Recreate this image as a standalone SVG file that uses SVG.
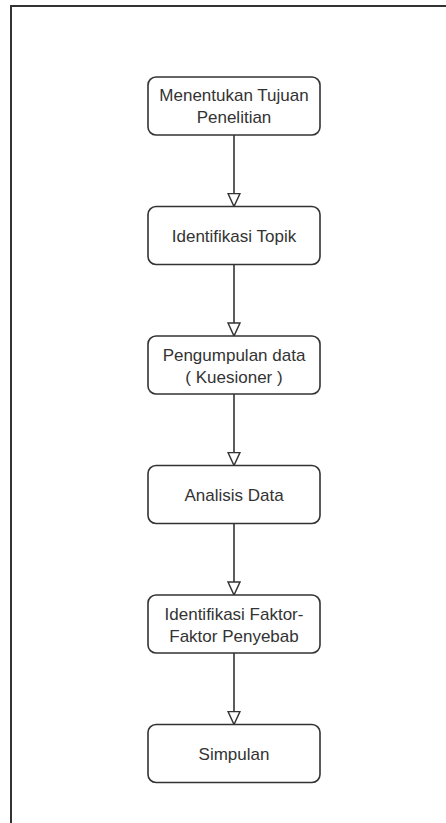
<svg xmlns="http://www.w3.org/2000/svg" width="446" height="823" viewBox="0 0 446 823">
<style>
.box{fill:#fff;stroke:#333;stroke-width:1.6}
.t{font-family:"Liberation Sans",Arial,sans-serif;font-size:17px;fill:#333;text-anchor:middle}
.c{stroke:#333;stroke-width:1.6;fill:none}
.frame{stroke:#333;stroke-width:2;fill:none}
</style>
<defs>
<marker id="arr" markerUnits="userSpaceOnUse" markerWidth="16" markerHeight="14" refX="14" refY="7" orient="auto" viewBox="0 0 16 14">
<path d="M1,1 L14,7 L1,13 Z" fill="#fff" stroke="#333" stroke-width="1.5"/>
</marker>
</defs>
<rect width="446" height="823" fill="#fff"/>
<path class="frame" d="M11,823 L11,6 L446,6"/>
<g id="connectors">
<line class="c" x1="234" y1="135" x2="234" y2="206.5" marker-end="url(#arr)"/>
<line class="c" x1="234" y1="264.5" x2="234" y2="336" marker-end="url(#arr)"/>
<line class="c" x1="234" y1="394" x2="234" y2="465.5" marker-end="url(#arr)"/>
<line class="c" x1="234" y1="523.5" x2="234" y2="595" marker-end="url(#arr)"/>
<line class="c" x1="234" y1="653" x2="234" y2="724.5" marker-end="url(#arr)"/>
</g>
<g id="n1"><rect class="box" x="148" y="77" width="172" height="58" rx="8"/>
<text class="t" x="234" y="101">Menentukan Tujuan</text><text class="t" x="234" y="123">Penelitian</text></g>
<g id="n2"><rect class="box" x="148" y="206.5" width="172" height="58" rx="8"/>
<text class="t" x="234" y="241.5">Identifikasi Topik</text></g>
<g id="n3"><rect class="box" x="148" y="336" width="172" height="58" rx="8"/>
<text class="t" x="234" y="360.5">Pengumpulan data</text><text class="t" x="234" y="382.5">( Kuesioner )</text></g>
<g id="n4"><rect class="box" x="148" y="465.5" width="172" height="58" rx="8"/>
<text class="t" x="234" y="500.5">Analisis Data</text></g>
<g id="n5"><rect class="box" x="148" y="595" width="172" height="58" rx="8"/>
<text class="t" x="234" y="619.5">Identifikasi Faktor-</text><text class="t" x="234" y="641.5">Faktor Penyebab</text></g>
<g id="n6"><rect class="box" x="148" y="724.5" width="172" height="58" rx="8"/>
<text class="t" x="234" y="759.5">Simpulan</text></g>
</svg>
